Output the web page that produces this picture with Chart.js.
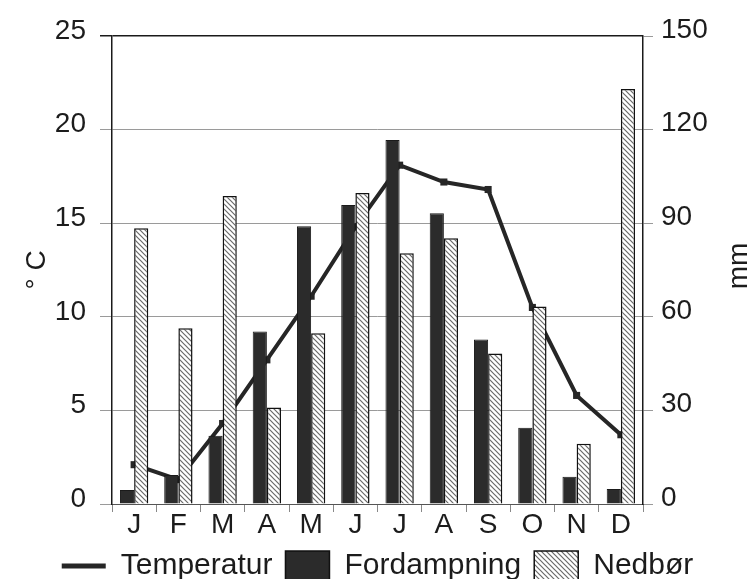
<!DOCTYPE html>
<html>
<head>
<meta charset="utf-8">
<script src="https://cdn.jsdelivr.net/npm/chart.js@4.4.0/dist/chart.umd.min.js"></script>
<style>
  html, body { margin: 0; padding: 0; background: #fff; }
  #wrap { width: 755px; height: 579px; }
</style>
</head>
<body>
<div id="wrap"><canvas id="myChart"></canvas></div>
<script>
// months, values
var months = ["J", "F", "M", "A", "M", "J", "J", "A", "S", "O", "N", "D"]
var temperatur = [2.1, 1.3, 4.3, 7.7, 11.1, 14.8, 18.1, 17.2, 16.8, 10.5, 5.8, 3.7]   // °C
var fordampning = [4.5, 9.3, 21.9, 55.3, 89, 95.8, 116.7, 93.2, 52.7, 24.4, 8.7, 4.8]  // mm
var nedbor = [88.4, 56.3, 98.7, 30.9, 54.7, 99.7, 80.4, 85.2, 48.2, 63.3, 19.3, 133]   // mm
var tempTicks = [0, 5, 10, 15, 20, 25]
var mmTicks = [0, 30, 60, 90, 120, 150]

var fontFam = "'Liberation Sans', Arial, sans-serif"
var ink = "#1c1c1c"

// diagonal hatch for Nedbør
function hatch() {
  var c = document.createElement("canvas")
  c.width = 5; c.height = 5
  var g = c.getContext("2d")
  g.fillStyle = "#fff"
  g.fillRect(0, 0, 5, 5)
  g.strokeStyle = "#6a6a6a"
  g.lineWidth = 1.2
  g.beginPath()
  g.moveTo(-1, -1); g.lineTo(6, 6)
  g.moveTo(-1, 4); g.lineTo(1, 6)
  g.moveTo(4, -1); g.lineTo(6, 1)
  g.stroke()
  return g.createPattern(c, "repeat")
}
var hatchFill = hatch()

// right axis title reads bottom-to-top like the left one
var mmTitle = {
  id: "mmTitle",
  afterDraw: function(chart) {
    var ctx = chart.ctx
    ctx.save()
    ctx.translate(739, 266)
    ctx.rotate(-Math.PI / 2)
    ctx.font = "28px " + fontFam
    ctx.fillStyle = ink
    ctx.textAlign = "center"
    ctx.textBaseline = "middle"
    ctx.fillText("mm", 0, 0)
    ctx.restore()
  }
}

var myChart = document.getElementById("myChart").getContext("2d")

var chart = new Chart(myChart, {
  type: "bar",
  data: {
    labels: months,
    datasets: [
      {
        type: "line",
        label: "Temperatur",
        data: temperatur,
        yAxisID: "yT",
        borderColor: "#262626",
        backgroundColor: "#262626",
        borderWidth: 4,
        pointStyle: "rect",
        pointRadius: 5,
        pointBorderWidth: 0,
        tension: 0,
        order: 3
      },
      {
        label: "Fordampning",
        data: fordampning,
        yAxisID: "yM",
        backgroundColor: "#2b2b2b",
        borderColor: "#1a1a1a",
        borderWidth: 1,
        order: 1
      },
      {
        label: "Nedbør",
        data: nedbor,
        yAxisID: "yM",
        backgroundColor: hatchFill,
        borderColor: "#111",
        borderWidth: 1.5,
        order: 1
      }
    ]
  },
  options: {
    responsive: true,
    maintainAspectRatio: false,
    animation: false,
    layout: { padding: { top: 36, left: 0, right: 0, bottom: -12 } },
    categoryPercentage: 0.64,
    barPercentage: 1.0,
    plugins: {
      tooltip: { enabled: false },
      legend: {
        position: "bottom",
        labels: {
          usePointStyle: true,
          pointStyleWidth: 44,
          boxHeight: 30,
          padding: 13,
          color: ink,
          font: { family: fontFam, size: 30 },
          sort: function(a, b) { return a.datasetIndex - b.datasetIndex },
          generateLabels: function(ch) {
            return ch.data.datasets.map(function(ds, i) {
              return {
                text: ds.label,
                datasetIndex: i,
                fillStyle: ds.backgroundColor,
                strokeStyle: i == 0 ? "#262626" : "#111",
                lineWidth: i == 0 ? 5 : 1.5,
                pointStyle: i == 0 ? "line" : "rect",
                fontColor: ink
              }
            })
          }
        }
      }
    },
    scales: {
      x: {
        offset: true,
        grid: {
          offset: true,
          drawOnChartArea: false,
          color: "#888",
          tickLength: 8
        },
        border: { display: true, color: "#555", width: 1 },
        ticks: {
          color: ink,
          padding: -4,
          font: { family: fontFam, size: 28 },
          maxRotation: 0,
          autoSkip: false
        },
        afterFit: function(s) { s.height = 34 }
      },
      yT: {
        position: "left",
        min: 0,
        max: 25,
        afterBuildTicks: function(s) { s.ticks = tempTicks.map(function(v) { return { value: v } }) },
        grid: {
          color: function(c) { return c.tick && c.tick.value == 25 ? "#1a1a1a" : "#9a9a9a" },
          lineWidth: function(c) { return c.tick && c.tick.value == 25 ? 1.5 : 1 },
          tickLength: 12
        },
        border: { display: true, color: "#1a1a1a", width: 1.5 },
        ticks: {
          color: ink,
          padding: 14,
          labelOffset: -5,
          font: { family: fontFam, size: 28 }
        },
        title: {
          display: true,
          text: "° C",
          color: ink,
          font: { family: fontFam, size: 28 },
          padding: { top: 20, bottom: 0 }
        },
        afterFit: function(s) { s.width = 112 }
      },
      yM: {
        position: "right",
        min: 0,
        max: 150,
        afterBuildTicks: function(s) { s.ticks = mmTicks.map(function(v) { return { value: v } }) },
        grid: {
          drawOnChartArea: false,
          color: "#9a9a9a",
          tickLength: 10
        },
        border: { display: true, color: "#1a1a1a", width: 1.5 },
        ticks: {
          color: ink,
          padding: 8,
          labelOffset: -6,
          font: { family: fontFam, size: 28 }
        },
        afterFit: function(s) { s.width = 112 }
      }
    }
  },
  plugins: [mmTitle]
})
</script>
</body>
</html>
